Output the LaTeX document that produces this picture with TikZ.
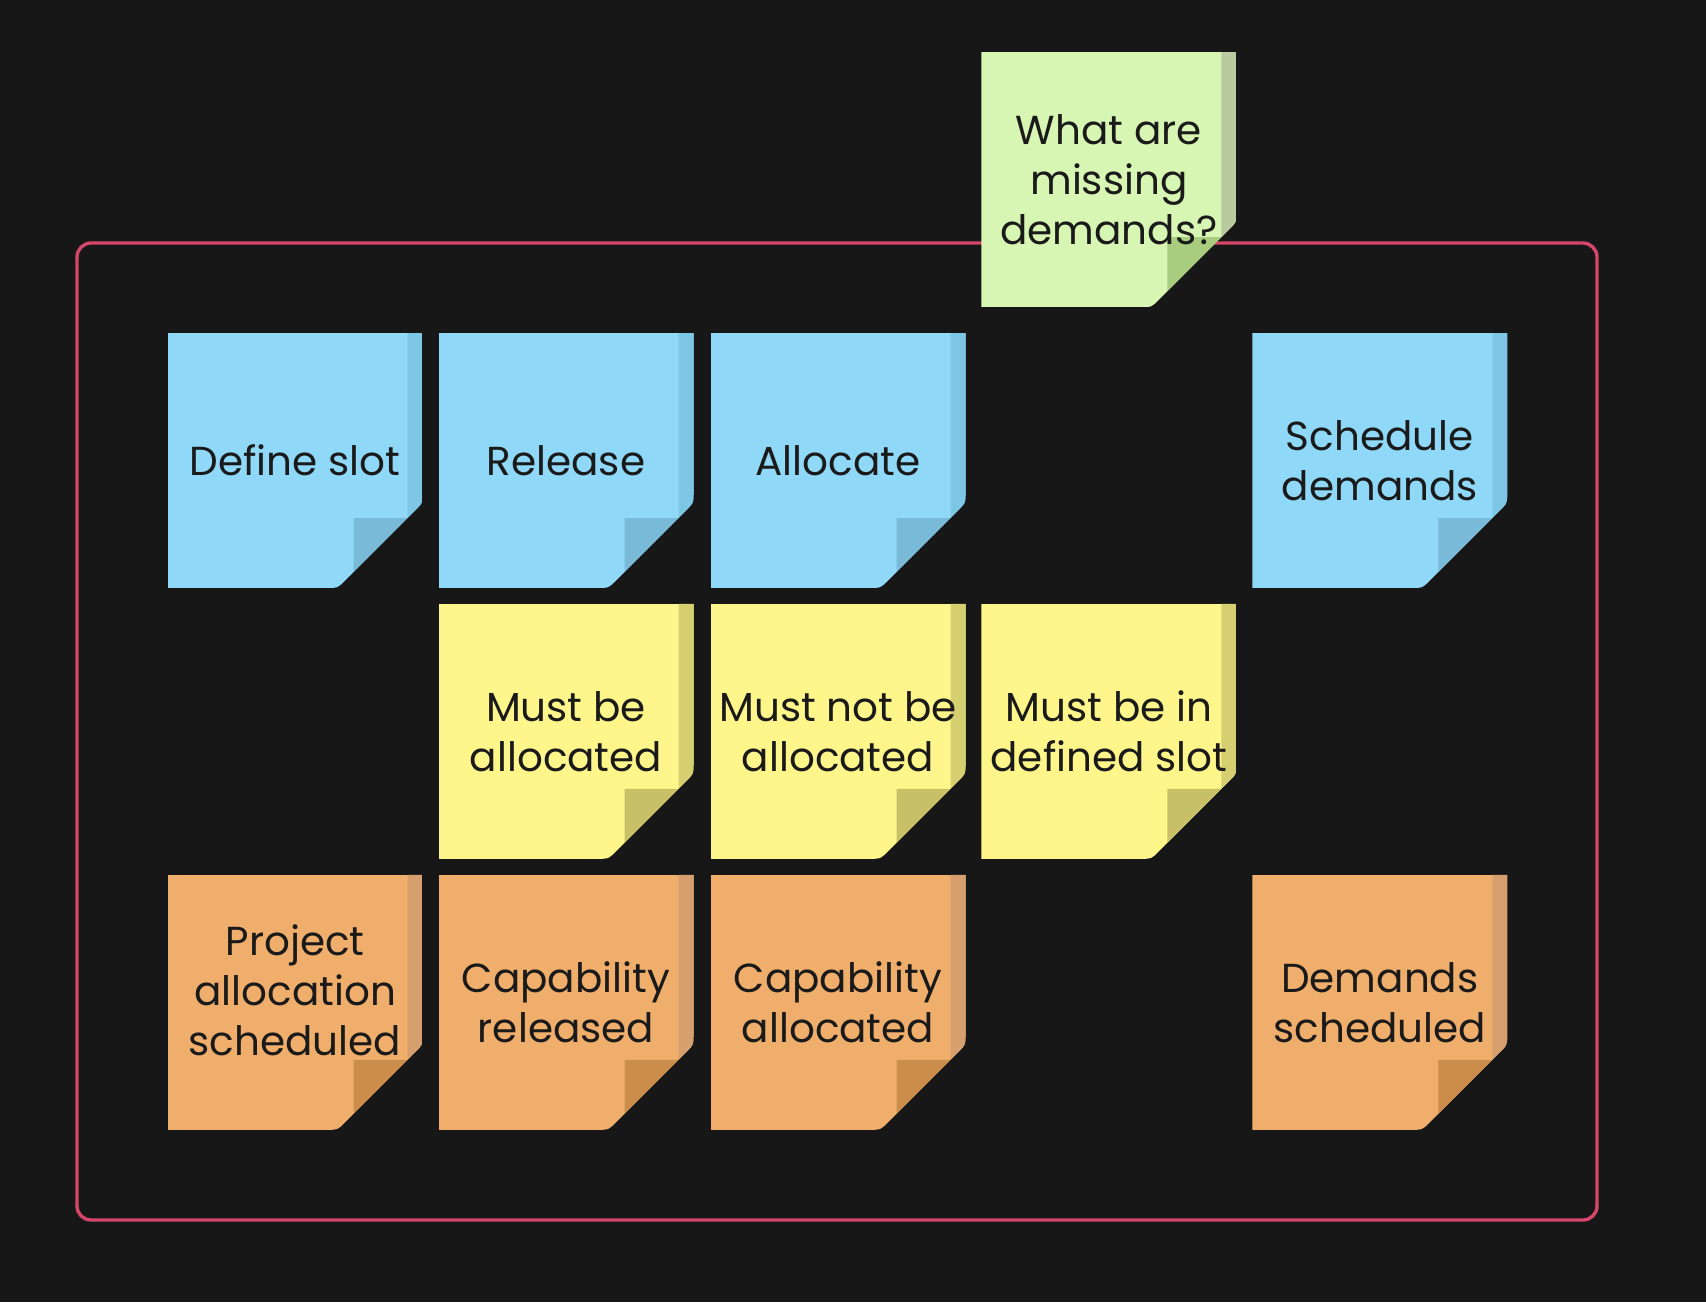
\documentclass[tikz,border=0pt]{standalone}
\usepackage{fontspec}
\setmainfont{Poppins}
\definecolor{bg}{HTML}{171717}
\definecolor{framered}{HTML}{D5466A}
\definecolor{inktext}{HTML}{1A1A1A}
\definecolor{bluebody}{HTML}{8FD8F7}
\definecolor{bluestrip}{HTML}{7EC6E6}
\definecolor{bluefold}{HTML}{78BAD8}
\definecolor{yellowbody}{HTML}{FFF68B}
\definecolor{yellowstrip}{HTML}{D6CF72}
\definecolor{yellowfold}{HTML}{C8C067}
\definecolor{orangebody}{HTML}{F0AE6C}
\definecolor{orangestrip}{HTML}{D6A06E}
\definecolor{orangefold}{HTML}{CB8C4C}
\definecolor{greenbody}{HTML}{D7F5B3}
\definecolor{greenstrip}{HTML}{B9C9A0}
\definecolor{greenfold}{HTML}{A8CD7F}
\tikzset{
	notetext/.style={align=center,text=inktext,font=\fontsize{40.5}{50}\selectfont,inner sep=0pt},
	frameline/.style={draw=framered,line width=3.4pt,rounded corners=14pt}
}
\newcommand{\stickynote}[6][]{% options, name, x, y, colour, text
	\begin{scope}[shift={(#3,#4)}]
		\begin{scope}
			\clip (0,0) -- (255,0) -- (255,160) .. controls (255,170) .. (248,177) -- (177,248) .. controls (170,255) .. (160,255) -- (0,255) -- cycle;
			\fill[#5body] (0,0) rectangle (255,255);
			\fill[#5strip] (240,0) -- (255,0) -- (255,170) -- (240,185) -- cycle;
			\fill[#5fold] (186,185) -- (240,185) -- (186,239) -- cycle;
		\end{scope}
		\node[notetext,#1] (#2) at (127.5,127.5) {#6};
	\end{scope}}

\begin{document}
\begin{tikzpicture}[x=1pt,y=-1pt]
	\useasboundingbox (0,0) rectangle (1706,1302);
	\fill[bg] (0,0) rectangle (1706,1302);
	\draw[frameline] (77,243) rectangle (1597,1220);
	\stickynote{missing}{981.4}{52.2}{green}{What are\\missing\\demands?}
	\stickynote{defineslot}{167.6}{333}{blue}{Define slot}
	\stickynote{release}{438.5}{333}{blue}{Release}
	\stickynote{allocate}{710.5}{333}{blue}{Allocate}
	\stickynote{schedule}{1252.3}{333}{blue}{Schedule\\demands}
	\stickynote{mustalloc}{438.5}{603.8}{yellow}{Must be\\allocated}
	\stickynote{mustnotalloc}{710.5}{603.8}{yellow}{Must not be\\allocated}
	\stickynote{mustslot}{981.4}{603.8}{yellow}{Must be in\\defined slot}
	\stickynote[yshift=12pt]{projsched}{167.6}{874.8}{orange}{Project\\allocation\\scheduled}
	\stickynote{capreleased}{438.5}{874.8}{orange}{Capability\\released}
	\stickynote{capallocated}{710.5}{874.8}{orange}{Capability\\allocated}
	\stickynote{demsched}{1252.3}{874.8}{orange}{Demands\\scheduled}
\end{tikzpicture}
\end{document}
